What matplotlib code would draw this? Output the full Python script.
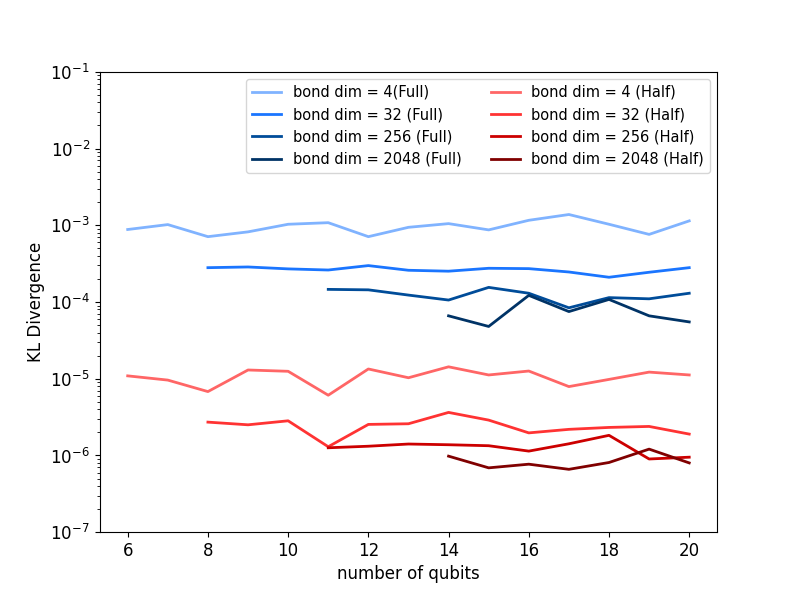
import matplotlib
matplotlib.use("Agg")
import matplotlib.pyplot as plt

# number of qubits for each run
qubits_4 = list(range(6, 21))
qubits_32 = list(range(8, 21))
qubits_256 = list(range(11, 21))
qubits_2048 = list(range(14, 21))

# KL divergence, full sampling
kl_full_4 = [8.8e-4, 1.02e-3, 7.1e-4, 8.2e-4, 1.03e-3, 1.08e-3, 7.1e-4, 9.4e-4,
             1.05e-3, 8.7e-4, 1.16e-3, 1.38e-3, 1.03e-3, 7.6e-4, 1.14e-3]
kl_full_32 = [2.80e-4, 2.86e-4, 2.70e-4, 2.61e-4, 2.98e-4, 2.59e-4, 2.52e-4,
              2.75e-4, 2.72e-4, 2.46e-4, 2.10e-4, 2.44e-4, 2.80e-4]
kl_full_256 = [1.46e-4, 1.44e-4, 1.23e-4, 1.06e-4, 1.55e-4, 1.30e-4, 8.4e-5,
               1.14e-4, 1.10e-4, 1.30e-4]
kl_full_2048 = [6.6e-5, 4.8e-5, 1.22e-4, 7.5e-5, 1.08e-4, 6.6e-5, 5.5e-5]

# KL divergence, half sampling
kl_half_4 = [1.09e-5, 9.6e-6, 6.8e-6, 1.30e-5, 1.25e-5, 6.1e-6, 1.34e-5, 1.03e-5,
             1.43e-5, 1.12e-5, 1.26e-5, 7.9e-6, 9.8e-6, 1.22e-5, 1.12e-5]
kl_half_32 = [2.72e-6, 2.51e-6, 2.83e-6, 1.30e-6, 2.54e-6, 2.59e-6, 3.64e-6,
              2.89e-6, 1.97e-6, 2.19e-6, 2.32e-6, 2.39e-6, 1.90e-6]
kl_half_256 = [1.26e-6, 1.32e-6, 1.41e-6, 1.38e-6, 1.34e-6, 1.14e-6, 1.42e-6,
               1.83e-6, 9.0e-7, 9.5e-7]
kl_half_2048 = [9.8e-7, 6.9e-7, 7.7e-7, 6.6e-7, 8.1e-7, 1.21e-6, 8.0e-7]

fig, ax = plt.subplots(figsize=(7.97, 5.98), dpi=100)

ax.plot(qubits_4, kl_full_4, color="#80b3ff", lw=2, label="bond dim = 4(Full)")
ax.plot(qubits_32, kl_full_32, color="#1a75ff", lw=2, label="bond dim = 32 (Full)")
ax.plot(qubits_256, kl_full_256, color="#004c99", lw=2, label="bond dim = 256 (Full)")
ax.plot(qubits_2048, kl_full_2048, color="#003366", lw=2, label="bond dim = 2048 (Full)")
ax.plot(qubits_4, kl_half_4, color="#ff6666", lw=2, label="bond dim = 4 (Half)")
ax.plot(qubits_32, kl_half_32, color="#ff3333", lw=2, label="bond dim = 32 (Half)")
ax.plot(qubits_256, kl_half_256, color="#cc0000", lw=2, label="bond dim = 256 (Half)")
ax.plot(qubits_2048, kl_half_2048, color="#800000", lw=2, label="bond dim = 2048 (Half)")

ax.set_yscale("log")
ax.set_ylim(1e-7, 1e-1)
ax.set_xticks(range(6, 21, 2))
ax.tick_params(labelsize=12)
ax.set_xlabel("number of qubits", fontsize=12)
ax.set_ylabel("KL Divergence", fontsize=12)
ax.legend(loc="upper right", ncol=2, fontsize=10.5)

fig.savefig("out.png")
